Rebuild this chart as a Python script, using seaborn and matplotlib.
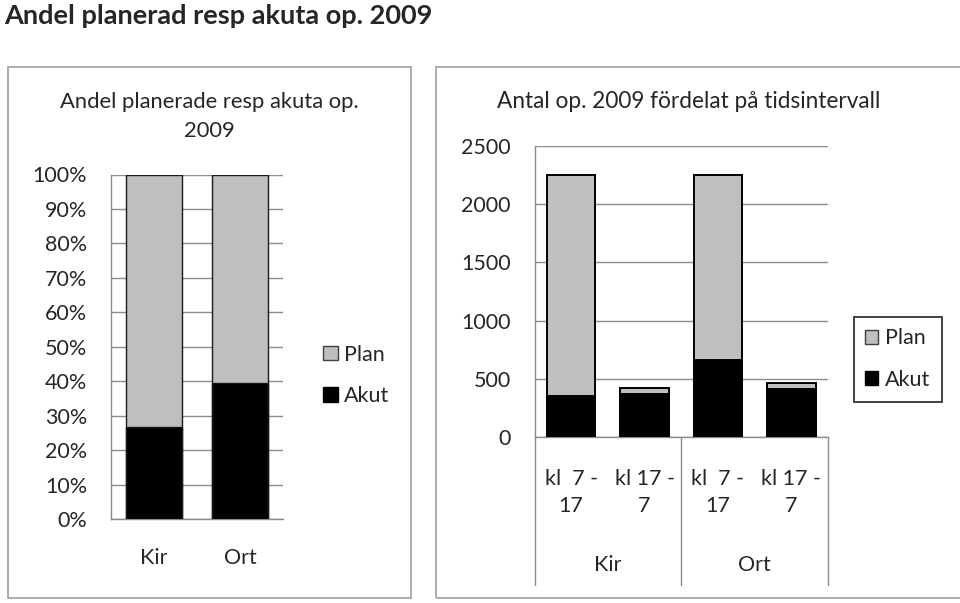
import matplotlib
matplotlib.use("Agg")
import matplotlib.pyplot as plt
import matplotlib.patches as mpatches
import matplotlib.transforms as mtransforms
from matplotlib.lines import Line2D
import seaborn as sns
import pandas as pd

# ---------------- data ----------------
left_categories = ["Kir", "Ort"]
left_akut_pct = [26.8, 39.6]
left_plan_pct = [73.2, 60.4]

right_groups = ["Kir", "Kir", "Ort", "Ort"]
right_intervals = ["kl  7 -\n17", "kl 17 -\n7", "kl  7 -\n17", "kl 17 -\n7"]
right_akut = [350, 370, 660, 417]
right_plan = [1895, 50, 1585, 48]

left_yticks = [0, 10, 20, 30, 40, 50, 60, 70, 80, 90, 100]
right_yticks = [0, 500, 1000, 1500, 2000, 2500]

series_names = ["Plan", "Akut"]

# ---------------- style ----------------
sns.set_theme(style="white")
plt.rcParams["font.family"] = ["Lato", "DejaVu Sans"]

W, H = 960, 603
fig = plt.figure(figsize=(W / 100, H / 100), dpi=100)

PLAN_C = "#BFBFBF"
AKUT_C = "#000000"
GRID_C = "#8C8C8C"
FS = 15.5


def rect(x0, y0, x1, y1):
    return [x0 / W, 1 - y1 / H, (x1 - x0) / W, (y1 - y0) / H]


def fx(x):
    return x / W


def fy(y):
    return 1 - y / H


# panel boxes
fig.patches.append(mpatches.Rectangle((fx(7.5), fy(598)), (411 - 7.5) / W, (598 - 67) / H,
                                      transform=fig.transFigure, fill=False,
                                      edgecolor="#A6A6A6", linewidth=1.3))
fig.patches.append(mpatches.Rectangle((fx(436), fy(598)), (975 - 436) / W, (598 - 67) / H,
                                      transform=fig.transFigure, fill=False,
                                      edgecolor="#A6A6A6", linewidth=1.3, clip_on=False))

# main title
fig.text(fx(4), fy(24), "Andel planerad resp akuta op. 2009", fontsize=19.5,
         fontweight="bold", ha="left", va="baseline")

# ---------------- left chart ----------------
axL = fig.add_axes(rect(110.7, 174.5, 283, 519))
dfL = pd.DataFrame({"cat": left_categories,
                    "total": [a + p for a, p in zip(left_akut_pct, left_plan_pct)],
                    "akut": left_akut_pct})
sns.barplot(data=dfL, x="cat", y="total", color=PLAN_C, saturation=1, width=0.65,
            edgecolor="#1a1a1a", linewidth=1.0, errorbar=None, ax=axL, zorder=3)
sns.barplot(data=dfL, x="cat", y="akut", color=AKUT_C, saturation=1, width=0.65,
            edgecolor="#1a1a1a", linewidth=1.0, errorbar=None, ax=axL, zorder=3)
axL.set_ylim(0, 100)
axL.set_xlim(-0.5, 1.5)
axL.set_yticks(left_yticks)
axL.set_yticklabels([f"{v}%" for v in left_yticks], fontsize=FS)
axL.set_xticks(range(len(left_categories)))
axL.set_xticklabels(left_categories, fontsize=FS)
axL.set_xlabel("")
axL.set_ylabel("")
axL.yaxis.grid(True, color=GRID_C, linewidth=1.0)
axL.set_axisbelow(True)
for s in ["top", "right"]:
    axL.spines[s].set_visible(False)
for s in ["left", "bottom"]:
    axL.spines[s].set_color(GRID_C)
    axL.spines[s].set_linewidth(1.0)
axL.tick_params(axis="y", length=0, pad=17)
axL.tick_params(axis="x", length=0, pad=21)

fig.text(fx(209), fy(108), "Andel planerade resp akuta op.", fontsize=FS + 0.3,
         ha="center", va="baseline")
fig.text(fx(209), fy(137), "2009", fontsize=FS + 0.3, ha="center", va="baseline")

handles = [mpatches.Patch(facecolor=PLAN_C, edgecolor="#404040", linewidth=1.0),
           mpatches.Patch(facecolor=AKUT_C, edgecolor="#000000", linewidth=1.0)]
fig.legend(handles, series_names, loc="upper left",
           bbox_to_anchor=(fx(308), fy(329.5)), frameon=False, fontsize=FS,
           handlelength=0.68, handleheight=0.68, handletextpad=0.3,
           labelspacing=1.0, borderpad=0.2)

# ---------------- right chart ----------------
axR = fig.add_axes(rect(534.5, 145.7, 828, 437.3))
keys = [f"{g}|{i}" for g, i in zip(right_groups, right_intervals)]
dfR = pd.DataFrame({"key": keys,
                    "total": [a + p for a, p in zip(right_akut, right_plan)],
                    "akut": right_akut})
sns.barplot(data=dfR, x="key", y="total", color=PLAN_C, saturation=1, width=0.66,
            edgecolor="#000000", linewidth=1.4, errorbar=None, ax=axR, zorder=3)
sns.barplot(data=dfR, x="key", y="akut", color=AKUT_C, saturation=1, width=0.66,
            edgecolor="#000000", linewidth=1.4, errorbar=None, ax=axR, zorder=3)
axR.set_ylim(0, 2500)
axR.set_xlim(-0.5, len(keys) - 0.5)
axR.set_yticks(right_yticks)
axR.set_yticklabels([str(v) for v in right_yticks], fontsize=FS)
axR.set_xticks(range(len(keys)))
axR.set_xticklabels(right_intervals, fontsize=FS, linespacing=1.4)
axR.set_xlabel("")
axR.set_ylabel("")
axR.yaxis.grid(True, color=GRID_C, linewidth=1.0)
axR.set_axisbelow(True)
for s in ["top", "right"]:
    axR.spines[s].set_visible(False)
for s in ["left", "bottom"]:
    axR.spines[s].set_color(GRID_C)
    axR.spines[s].set_linewidth(1.0)
axR.tick_params(axis="y", length=0, pad=17)
axR.tick_params(axis="x", length=0, pad=23)

trans = mtransforms.blended_transform_factory(axR.transData, axR.transAxes)
depth = -(585 - 437.3) / (437.3 - 145.7)
for xpos in [-0.5, 1.5, 3.5]:
    axR.add_line(Line2D([xpos, xpos], [0, depth], transform=trans, color=GRID_C,
                        linewidth=1.0, clip_on=False))
group_names = list(dict.fromkeys(right_groups))
for gi, g in enumerate(group_names):
    axR.text(gi * 2 + 0.5, -(565 - 437.3) / (437.3 - 145.7), g, transform=trans,
             fontsize=FS, ha="center", va="center")

fig.text(fx(497), fy(108), "Antal op. 2009 fördelat på tidsintervall", fontsize=FS + 0.8,
         ha="left", va="baseline")

handlesR = [mpatches.Patch(facecolor=PLAN_C, edgecolor="#404040", linewidth=1.0),
            mpatches.Patch(facecolor=AKUT_C, edgecolor="#000000", linewidth=1.0)]
legR = fig.legend(handlesR, series_names, loc="upper left",
                  bbox_to_anchor=(fx(853.5), fy(316.5)), frameon=True, fontsize=FS,
                  handlelength=0.6, handleheight=0.6, handletextpad=0.3,
                  labelspacing=1.0, borderpad=0.55, borderaxespad=0, fancybox=False)
legR.get_frame().set_edgecolor("#000000")
legR.get_frame().set_linewidth(1.3)

fig.savefig("out.png", dpi=100)
